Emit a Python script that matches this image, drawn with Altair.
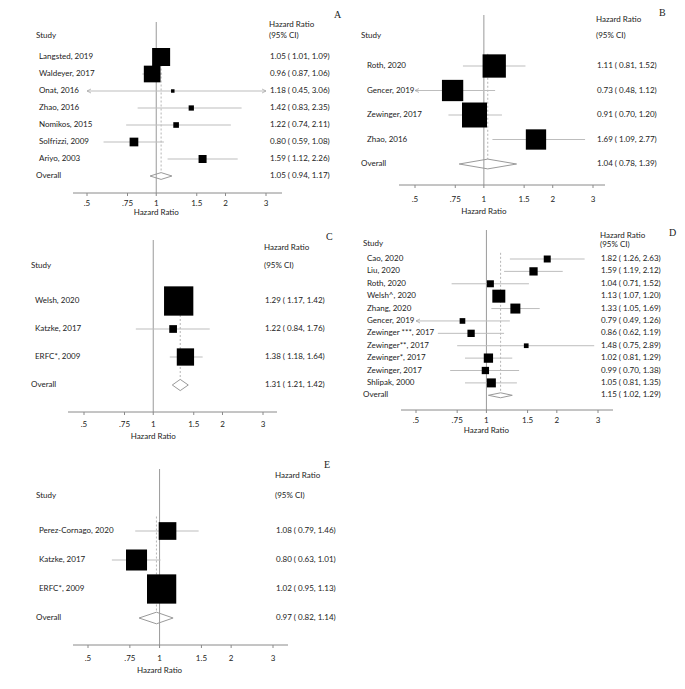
import math
import altair as alt
import pandas as pd

# ---------------- data ----------------
A_STUDY = ["Langsted, 2019", "Waldeyer, 2017", "Onat, 2016", "Zhao, 2016",
           "Nomikos, 2015", "Solfrizzi, 2009", "Ariyo, 2003"]
A_HR = [1.05, 0.96, 1.18, 1.42, 1.22, 0.80, 1.59]
A_LO = [1.01, 0.87, 0.45, 0.83, 0.74, 0.59, 1.12]
A_HI = [1.09, 1.06, 3.06, 2.35, 2.11, 1.08, 2.26]
A_WT = [39.8, 34.2, 1.5, 3.4, 3.9, 9.3, 7.9]
A_OVERALL = [1.05, 0.94, 1.17]

B_STUDY = ["Roth, 2020", "Gencer, 2019", "Zewinger, 2017", "Zhao, 2016"]
B_HR = [1.11, 0.73, 0.91, 1.69]
B_LO = [0.81, 0.48, 0.70, 1.09]
B_HI = [1.52, 1.12, 1.20, 2.77]
B_WT = [26.7, 22.3, 30.7, 20.3]
B_OVERALL = [1.04, 0.78, 1.39]

C_STUDY = ["Welsh, 2020", "Katzke, 2017", "ERFC*, 2009"]
C_HR = [1.29, 1.22, 1.38]
C_LO = [1.17, 0.84, 1.18]
C_HI = [1.42, 1.76, 1.64]
C_WT = [70.6, 4.9, 24.6]
C_OVERALL = [1.31, 1.21, 1.42]

D_STUDY = ["Cao, 2020", "Liu, 2020", "Roth, 2020", "Welsh^, 2020", "Zhang, 2020",
           "Gencer, 2019", "Zewinger ***, 2017", "Zewinger**, 2017",
           "Zewinger*, 2017", "Zewinger, 2017", "Shlipak, 2000"]
D_HR = [1.82, 1.59, 1.04, 1.13, 1.33, 0.79, 0.86, 1.48, 1.02, 0.99, 1.05]
D_LO = [1.26, 1.19, 0.71, 1.07, 1.05, 0.49, 0.62, 0.75, 0.81, 0.70, 0.81]
D_HI = [2.63, 2.12, 1.52, 1.20, 1.69, 1.26, 1.19, 2.89, 1.29, 1.38, 1.35]
D_WT = [6.4, 9.0, 6.4, 22.1, 13.1, 4.2, 7.0, 2.9, 11.3, 7.0, 10.6]
D_OVERALL = [1.15, 1.02, 1.29]

E_STUDY = ["Perez-Cornago, 2020", "Katzke, 2017", "ERFC*, 2009"]
E_HR = [1.08, 0.80, 1.02]
E_LO = [0.79, 0.63, 0.95]
E_HI = [1.46, 1.01, 1.13]
E_WT = [19.4, 27.4, 53.2]
E_OVERALL = [0.97, 0.82, 1.14]

TICK_VALUES = [0.5, 0.75, 1, 1.5, 2, 3]
TICK_LABELS = [".5", ".75", "1", "1.5", "2", "3"]

FONT = "Lato"
TXT = "#222222"
FS = 8

LEFT_ARROW = "M2,-1L0,0L2,1"
RIGHT_ARROW = "M-2,-1L0,0L-2,1"


def txt(text, x, y, align="left", size=FS, font=FONT, baseline="middle"):
    return alt.Chart(pd.DataFrame({"t": [text]})).mark_text(
        align=align, baseline=baseline, fontSize=size, font=font, color=TXT
    ).encode(text="t:N", x=alt.value(x), y=alt.value(y))


def panel(study, hr, lo, hi, wt, overall, L):
    n = len(study)
    kx = (L["p3"] - L["p05"]) / math.log(6)
    d0 = 0.5 * math.exp((L["e0"] - L["p05"]) / kx)
    d1 = 3 * math.exp((L["e1"] - L["p3"]) / kx)
    xs = alt.Scale(type="log", domain=[d0, d1], range=[L["e0"], L["e1"]], nice=False)
    ys = alt.Scale(type="linear", domain=[0, n], range=[L["y0"], L["y0"] + n * L["dy"]],
                   nice=False, zero=False)

    df = pd.DataFrame({"row": list(range(n)), "study": study, "hr": hr,
                       "lo": lo, "hi": hi, "wt": wt})
    df["lo_c"] = df["lo"].clip(lower=0.5)
    df["hi_c"] = df["hi"].clip(upper=3)
    df["sz"] = df["wt"] * L["k"]

    rows_txt = pd.DataFrame({
        "row": list(range(n + 1)),
        "txt": [f"{h:.2f} ( {l:.2f}, {u:.2f})" for h, l, u in
                zip(hr + [overall[0]], lo + [overall[1]], hi + [overall[2]])],
    })

    X = lambda f: alt.X(f, scale=xs, axis=None)
    Y = lambda f: alt.Y(f, scale=ys, axis=None)

    layers = []
    layers.append(alt.Chart(pd.DataFrame({"v": [1.0]})).mark_rule(
        color="#9a9a9a", strokeWidth=1).encode(
        x=X("v:Q"), y=alt.value(L["vtop"]), y2=alt.value(L["axisY"])))
    layers.append(alt.Chart(pd.DataFrame({"v": [overall[0]], "r0": [-0.5], "r1": [n - 0.2]}))
                  .mark_rule(color="#b5b5b5", strokeWidth=1, strokeDash=[2, 2]).encode(
        x=X("v:Q"), y=Y("r0:Q"), y2="r1:Q"))
    layers.append(alt.Chart(df).mark_rule(color="#bdbdbd", strokeWidth=1).encode(
        x=X("lo_c:Q"), x2="hi_c:Q", y=Y("row:Q")))
    left = df[df["lo"] < 0.5]
    right = df[df["hi"] > 3]
    if len(left):
        layers.append(alt.Chart(left).mark_point(
            shape=LEFT_ARROW, size=16, filled=False, color="#a0a0a0", strokeWidth=1
        ).encode(x=X("lo_c:Q"), y=Y("row:Q")))
    if len(right):
        layers.append(alt.Chart(right).mark_point(
            shape=RIGHT_ARROW, size=16, filled=False, color="#a0a0a0", strokeWidth=1
        ).encode(x=X("hi_c:Q"), y=Y("row:Q")))
    layers.append(alt.Chart(df).mark_square(color="black", opacity=1).encode(
        x=X("hr:Q"), y=Y("row:Q"), size=alt.Size("sz:Q", scale=None, legend=None)))
    dia = pd.DataFrame({
        "o": [0, 1, 2, 3, 4],
        "x": [overall[1], overall[0], overall[2], overall[0], overall[1]],
        "y": [n, n - 0.2, n, n + 0.2, n],
    })
    layers.append(alt.Chart(dia).mark_line(color="#9a9a9a", strokeWidth=1).encode(
        x=X("x:Q"), y=Y("y:Q"), order="o:Q"))
    layers.append(alt.Chart(df).mark_text(
        align="left", baseline="middle", fontSize=FS, font=FONT, color=TXT).encode(
        x=alt.value(L["name_x"]), y=Y("row:Q"), text="study:N"))
    layers.append(alt.Chart(pd.DataFrame({"row": [n], "t": ["Overall"]})).mark_text(
        align="left", baseline="middle", fontSize=FS, font=FONT, color=TXT).encode(
        x=alt.value(L["study_x"]), y=Y("row:Q"), text="t:N"))
    layers.append(alt.Chart(rows_txt).mark_text(
        align="left", baseline="middle", fontSize=FS, font=FONT, color=TXT).encode(
        x=alt.value(L["hr_x"]), y=Y("row:Q"), text="txt:N"))
    layers.append(txt("Study", L["study_x"], L["study_y"]))
    layers.append(txt("Hazard Ratio", L["hdr_x"], L["hdr1_y"]))
    layers.append(txt("(95% CI)", L["hdr_x"], L["hdr2_y"]))
    layers.append(txt(L["lab"], L["lab_x"], L["lab_y"], size=10,
                      font="Liberation Serif", baseline="top"))
    layers.append(alt.Chart(pd.DataFrame({"a": [0]})).mark_rule(
        color="#8a8a8a", strokeWidth=1).encode(
        x=alt.value(L["e0"]), x2=alt.value(L["e1"]), y=alt.value(L["axisY"])))
    ticks = pd.DataFrame({"tv": TICK_VALUES, "tl": TICK_LABELS})
    layers.append(alt.Chart(ticks).mark_rule(color="#8a8a8a", strokeWidth=1).encode(
        x=X("tv:Q"), y=alt.value(L["axisY"]), y2=alt.value(L["axisY"] + 3)))
    layers.append(alt.Chart(ticks).mark_text(
        align="center", baseline="middle", fontSize=FS, font=FONT, color=TXT).encode(
        x=X("tv:Q"), y=alt.value(L["axisY"] + L["tl_off"]), text="tl:N"))
    layers.append(alt.Chart(pd.DataFrame({"v": [1.0], "t": ["Hazard Ratio"]})).mark_text(
        align="center", baseline="middle", fontSize=FS, font=FONT, color=TXT).encode(
        x=X("v:Q"), y=alt.value(L["title_y"]), text="t:N"))

    return alt.layer(*layers).properties(width=L["w"], height=L["h"])


LA = dict(w=332, h=222, p05=79, p3=258, e0=65, e1=274, axisY=185, y0=49, dy=17, vtop=14,
          study_x=28, study_y=28, name_x=31, hr_x=262, hdr_x=261, hdr1_y=17, hdr2_y=28,
          lab="A", lab_x=326, lab_y=2, title_y=205, tl_off=11, k=8.15)
LB = dict(w=337, h=222, p05=75, p3=253, e0=59, e1=265, axisY=177, y0=58, dy=24.5, vtop=7,
          study_x=21, study_y=28, name_x=27, hr_x=257, hdr_x=256, hdr1_y=12, hdr2_y=28,
          lab="B", lab_x=319, lab_y=0, title_y=204, tl_off=15, k=20.34)
LC = dict(w=332, h=230, p05=76, p3=255, e0=60, e1=269, axisY=182, y0=71, dy=28, vtop=10,
          study_x=23, study_y=36, name_x=27, hr_x=257, hdr_x=256, hdr1_y=18, hdr2_y=36,
          lab="C", lab_x=318, lab_y=2, title_y=207, tl_off=13, k=12.16)
LD = dict(w=337, h=230, p05=76, p3=258, e0=61, e1=273, axisY=180, y0=29, dy=12.39, vtop=0,
          study_x=23, study_y=14, name_x=27, hr_x=261, hdr_x=260, hdr1_y=6, hdr2_y=15,
          lab="D", lab_x=329, lab_y=-2, title_y=201, tl_off=11, k=7.63)
LE = dict(w=332, h=221, p05=80, p3=265, e0=65, e1=280, axisY=185, y0=71, dy=29, vtop=9,
          study_x=28, study_y=36, name_x=31, hr_x=268, hdr_x=267, hdr1_y=16, hdr2_y=36,
          lab="E", lab_x=316, lab_y=0, title_y=211, tl_off=14, k=16.12)

pA = panel(A_STUDY, A_HR, A_LO, A_HI, A_WT, A_OVERALL, LA)
pB = panel(B_STUDY, B_HR, B_LO, B_HI, B_WT, B_OVERALL, LB)
pC = panel(C_STUDY, C_HR, C_LO, C_HI, C_WT, C_OVERALL, LC)
pD = panel(D_STUDY, D_HR, D_LO, D_HI, D_WT, D_OVERALL, LD)
pE = panel(E_STUDY, E_HR, E_LO, E_HI, E_WT, E_OVERALL, LE)

chart = alt.concat(pA, pB, pC, pD, pE, columns=2, spacing=0, bounds="flush").resolve_scale(
    x="independent", y="independent"
).properties(padding=0, background="white").configure_view(stroke=None)

chart.save("out.html", embed_options={"renderer": "svg", "actions": False})
